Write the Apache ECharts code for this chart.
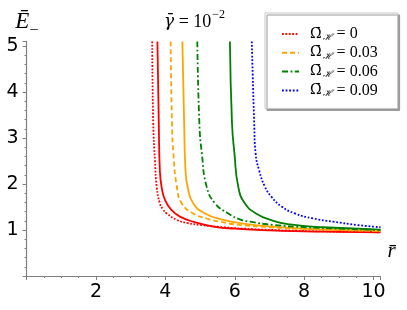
<!DOCTYPE html>
<html>
<head>
<meta charset="utf-8">
<script src="https://cdn.jsdelivr.net/npm/echarts@6/dist/echarts.min.js"></script>
<style>html,body{margin:0;padding:0;background:#fff}#c{width:407px;height:310px}</style>
</head>
<body>
<div id="c"></div>
<script>
// Legend values of Omega_H
const omegaLabels = ['0', '0.03', '0.06', '0.09'];

// Red dotted (Omega_H = 0)
const redDotR = [3.62, 3.65, 3.70, 3.75, 3.84, 3.93, 4.04, 4.33, 4.65, 5.0, 5.66, 6.5, 7.5, 8.5, 10.2];
const redDotE = [5.1, 3.32, 2.5, 1.94, 1.58, 1.45, 1.36, 1.22, 1.15, 1.11, 1.06, 1.02, 0.99, 0.97, 0.95];
// Red solid
const redSolR = [3.77, 3.81, 3.84, 3.89, 3.99, 4.18, 4.42, 4.80, 5.43, 6.0, 7.0, 8.0, 9.0, 10.2];
const redSolE = [5.1, 3.32, 2.30, 1.94, 1.65, 1.43, 1.29, 1.18, 1.07, 1.03, 0.99, 0.97, 0.96, 0.95];
// Orange dashed (Omega_H = 0.03)
const orDashR = [4.15, 4.19, 4.23, 4.33, 4.47, 4.80, 5.19, 5.57, 6.15, 7.0, 8.0, 9.0, 10.2];
const orDashE = [5.1, 3.32, 2.67, 1.94, 1.58, 1.36, 1.25, 1.18, 1.11, 1.06, 1.02, 1.0, 0.98];
// Orange solid
const orSolR = [4.49, 4.54, 4.58, 4.64, 4.80, 5.14, 5.67, 6.34, 7.0, 8.0, 9.0, 10.2];
const orSolE = [5.1, 3.32, 2.30, 1.94, 1.58, 1.36, 1.22, 1.13, 1.08, 1.03, 1.0, 0.98];
// Green dash-dot (Omega_H = 0.06)
const grDDR = [4.92, 4.98, 5.05, 5.19, 5.43, 5.81, 6.15, 6.44, 7.10, 8.07, 9.03, 10.2];
const grDDE = [5.1, 3.32, 2.67, 1.94, 1.58, 1.36, 1.23, 1.18, 1.11, 1.06, 1.03, 1.0];
// Green solid
const grSolR = [5.86, 5.92, 5.99, 6.10, 6.29, 6.61, 7.11, 7.59, 8.55, 10.2];
const grSolE = [5.1, 3.32, 2.67, 1.94, 1.58, 1.36, 1.20, 1.12, 1.06, 1.01];
// Blue dotted (Omega_H = 0.09)
const blDotR = [6.49, 6.56, 6.60, 6.70, 6.87, 7.06, 7.35, 7.73, 8.26, 8.84, 9.51, 10.2];
const blDotE = [5.1, 3.32, 2.67, 2.30, 1.94, 1.72, 1.51, 1.36, 1.25, 1.18, 1.11, 1.06];

const zip = (a, b) => a.map((v, i) => [v, b[i]]);

const chart = echarts.init(document.getElementById('c'), null, {renderer: 'canvas'});

function mk(name, r, e, color, type, z) {
  return {
    name: name, type: 'line', data: zip(r, e), showSymbol: false, symbol: 'none',
    smooth: 0.5, z: z || 2,
    lineStyle: {color: color, width: 1.8, type: type}, itemStyle: {color: color},
    animation: false
  };
}

const serif = 'Liberation Serif';
chart.setOption({
  animation: false,
  grid: {left: 26.6, right: 26.5, top: 41.4, bottom: 34},
  title: {
    text: '{g|γ̄}{t| = 10}{s|−2}',
    left: 159, top: 4,
    textStyle: {
      fontWeight: 'normal',
      rich: {
        g: {fontFamily: 'DejaVu Serif', fontStyle: 'italic', fontWeight: 'normal', fontSize: 17, color: '#000', lineHeight: 26},
        t: {fontFamily: serif, fontWeight: 'normal', fontSize: 18, color: '#000', lineHeight: 26},
        s: {fontFamily: serif, fontWeight: 'normal', fontSize: 12, color: '#000', lineHeight: 8, verticalAlign: 'top', padding: [0, 0, 0, 1]}
      }
    }
  },
  legend: {
    orient: 'vertical', left: 265, top: 13,
    data: omegaLabels,
    itemWidth: 17, itemHeight: 14, itemGap: 2.8,
    padding: [13, 20, 10, 16],
    backgroundColor: '#fff', borderColor: '#c8c8c8', borderWidth: 1,
    shadowColor: '#999', shadowOffsetX: 2, shadowOffsetY: 2, shadowBlur: 0,
    itemStyle: {color: 'transparent', borderWidth: 0, opacity: 0},
    formatter: n => '{o|Ω̄}{s|ℋ}{a| = ' + n + '}',
    textStyle: {
      padding: [0, 0, 0, 6],
      rich: {
        o: {fontFamily: 'DejaVu Serif', fontSize: 14, color: '#000'},
        a: {fontFamily: serif, fontSize: 16, color: '#000'},
        s: {fontFamily: 'DejaVu Serif', fontStyle: 'italic', fontSize: 9, color: '#000', verticalAlign: 'bottom', padding: [0, 0, 0, 1]}
      }
    }
  },
  xAxis: {
    type: 'value', min: 0, max: 10.2, interval: 2,
    name: 'r̄', nameLocation: 'end', nameGap: 7,
    nameTextStyle: {fontFamily: serif, fontStyle: 'italic', fontSize: 21, color: '#000', verticalAlign: 'bottom', padding: [0, 0, 14, 0]},
    splitLine: {show: false},
    axisLine: {lineStyle: {color: '#7f7f7f', width: 1.2}},
    axisTick: {length: 4, lineStyle: {color: '#7f7f7f'}},
    minorTick: {show: true, splitNumber: 4, length: 2, lineStyle: {color: '#7f7f7f'}},
    axisLabel: {
      margin: 7, color: '#000', fontFamily: 'DejaVu Sans', fontSize: 19,
      formatter: v => (v === 0 || Math.abs(v % 2) > 1e-6) ? '' : String(v)
    }
  },
  yAxis: {
    type: 'value', min: 0, max: 5.1, interval: 1,
    name: '{e|Ē}{m|–}', nameLocation: 'end', nameGap: 5,
    nameTextStyle: {
      align: 'center',
      rich: {
        e: {fontFamily: serif, fontStyle: 'italic', fontSize: 23, color: '#000', lineHeight: 26, verticalAlign: 'top'},
        m: {fontFamily: serif, fontSize: 15, color: '#000', lineHeight: 4, verticalAlign: 'bottom', padding: [0, 0, 0, 1]}
      }
    },
    splitLine: {show: false},
    axisLine: {lineStyle: {color: '#7f7f7f', width: 1.2}},
    axisTick: {length: 4, lineStyle: {color: '#7f7f7f'}},
    minorTick: {show: true, splitNumber: 5, length: 2, lineStyle: {color: '#7f7f7f'}},
    axisLabel: {
      margin: 8, color: '#000', fontFamily: 'DejaVu Sans', fontSize: 19,
      formatter: v => (v === 0 || Math.abs(v - Math.round(v)) > 1e-6) ? '' : String(v)
    }
  },
  series: [
    mk('solidRed', redSolR, redSolE, '#ff0000', 'solid'),
    mk('solidOrange', orSolR, orSolE, '#ffa500', 'solid'),
    mk('solidGreen', grSolR, grSolE, '#008000', 'solid'),
    mk(omegaLabels[0], redDotR, redDotE, '#ff0000', [1.8, 1.6], 3),
    mk(omegaLabels[1], orDashR, orDashE, '#ffa500', [5, 3], 3),
    mk(omegaLabels[2], grDDR, grDDE, '#008000', [6, 2.5, 1.8, 2.5], 3),
    mk(omegaLabels[3], blDotR, blDotE, '#0000ff', [1.8, 1.8], 3)
  ]
});
</script>
</body>
</html>
